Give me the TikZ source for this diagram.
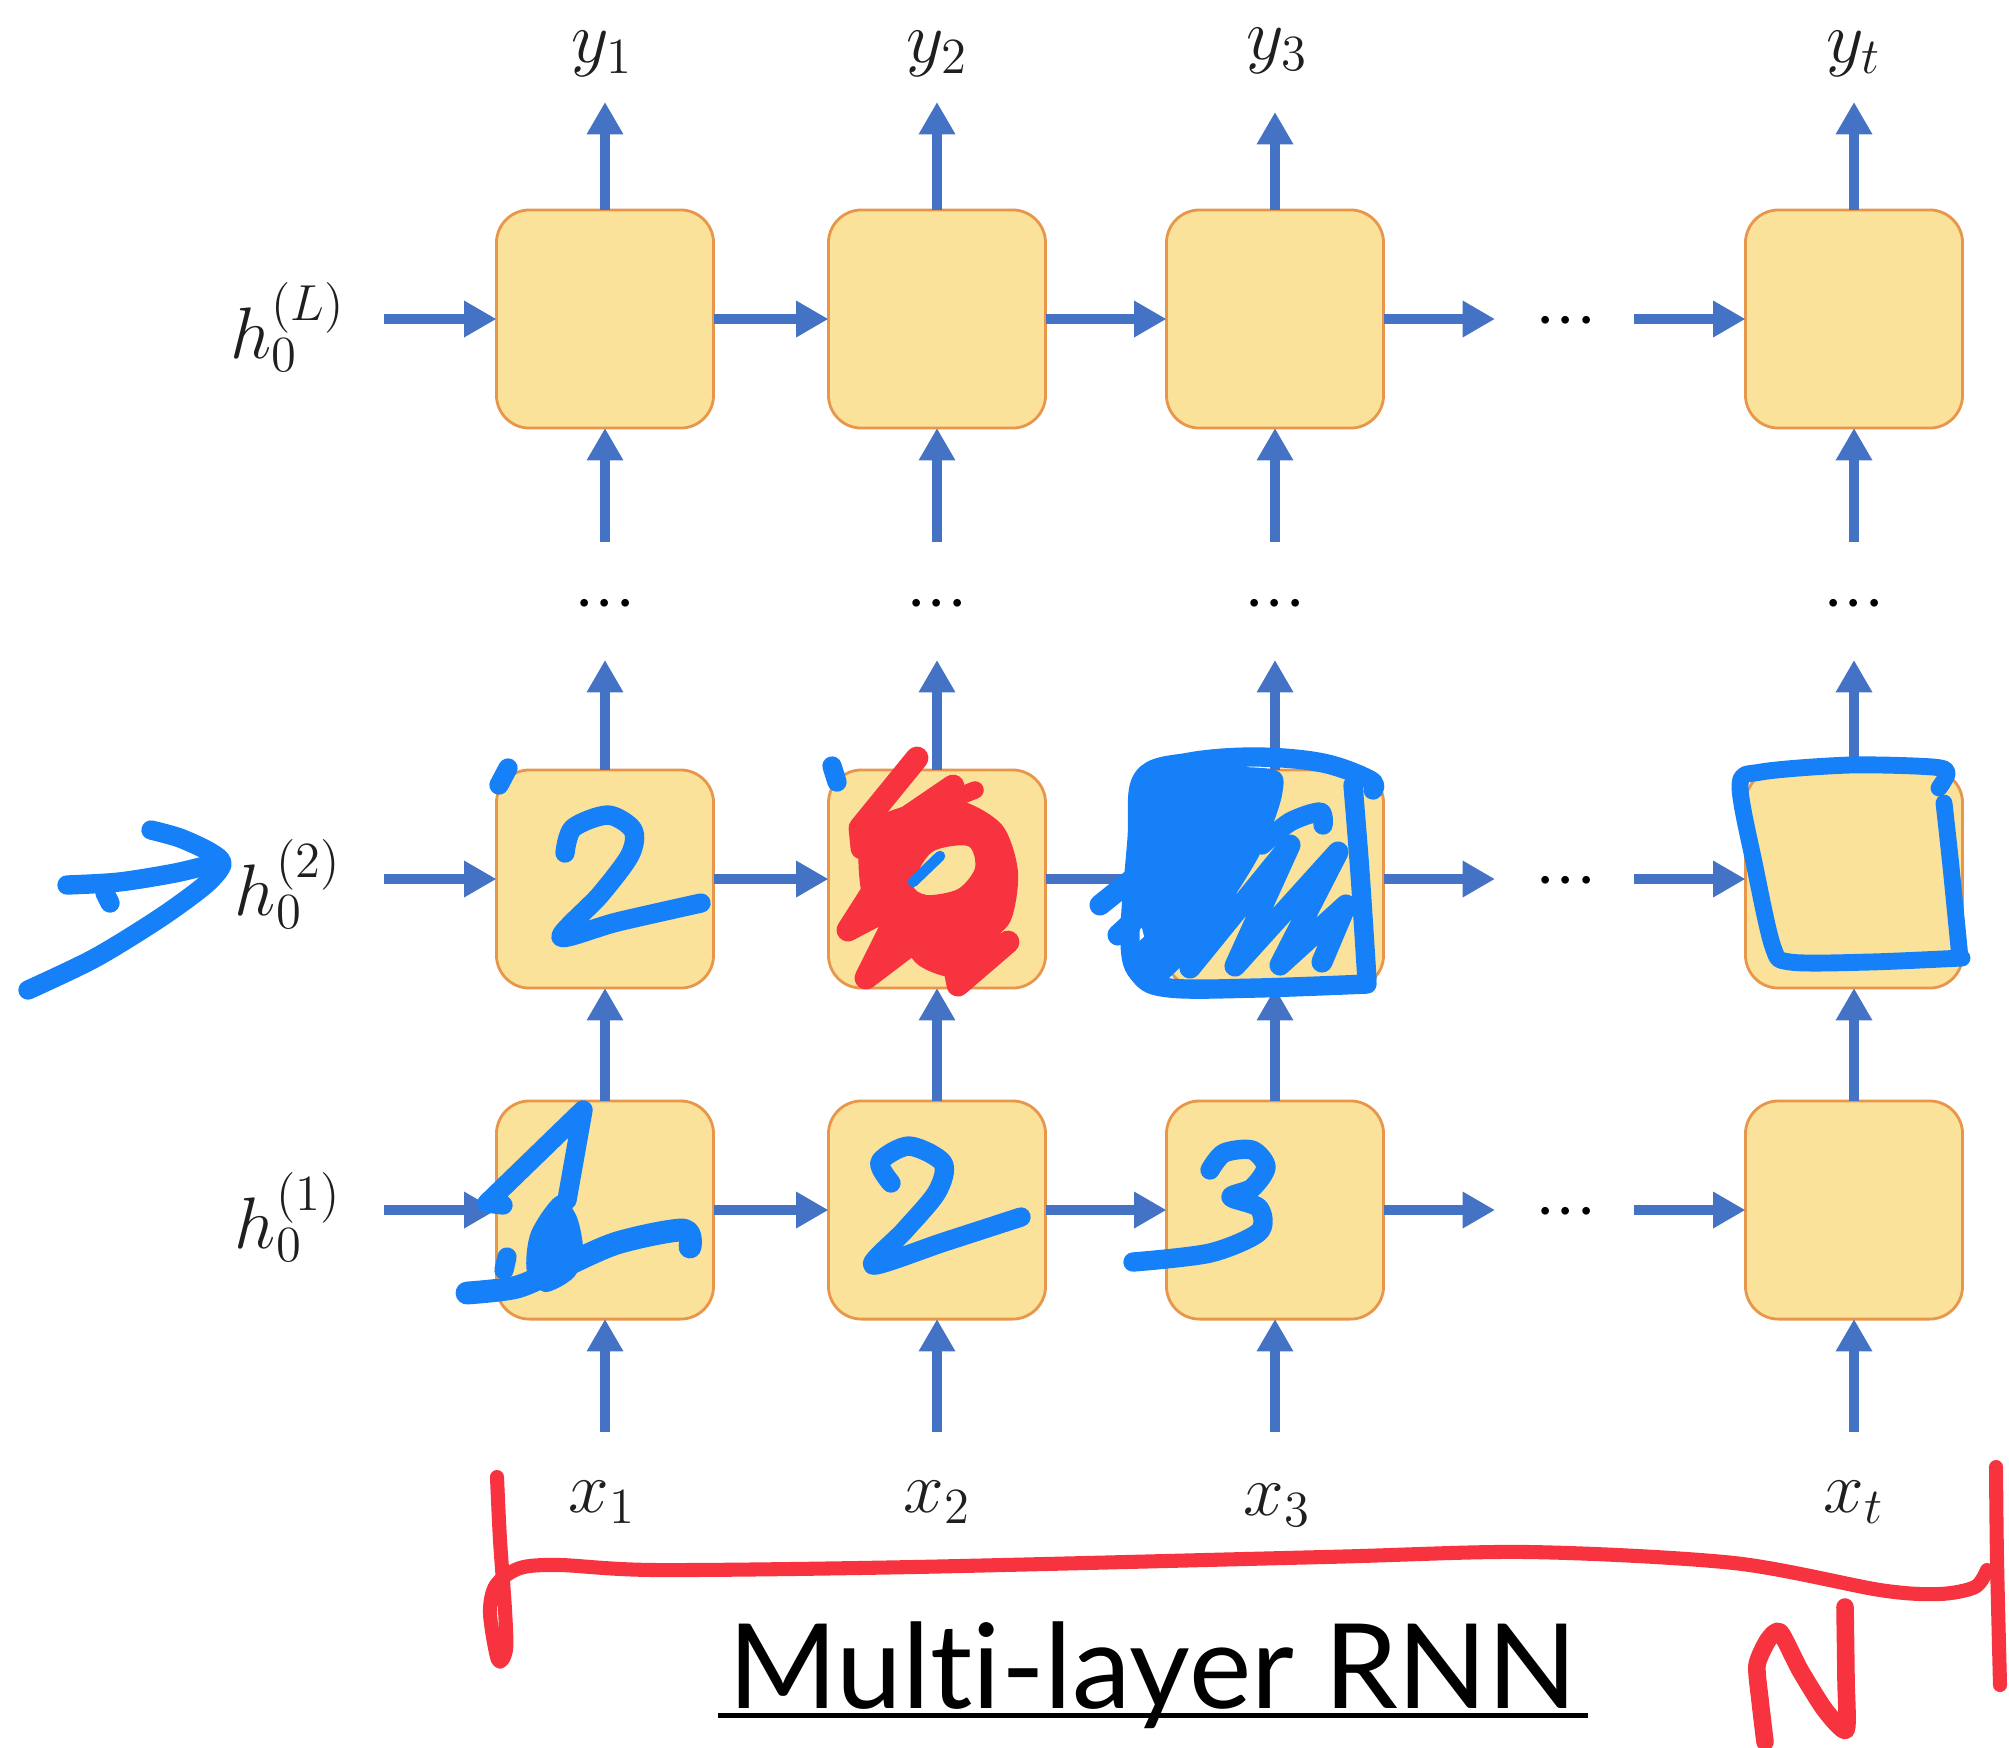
\documentclass[tikz,border=0pt]{standalone}
\usepackage{fontspec}
\usetikzlibrary{arrows.meta}
\newfontfamily\titlefont{Lato}[Ligatures=NoCommon]
\definecolor{arrowblue}{HTML}{4472C4}
\definecolor{cellfill}{HTML}{FBE29B}
\definecolor{celledge}{HTML}{E8964A}
\definecolor{penblue}{HTML}{1580F8}
\definecolor{penred}{HTML}{F6333F}
\begin{document}
\begin{tikzpicture}[x=0.01cm,y=-0.01cm,
  cell/.style={draw=celledge, line width=0.8pt, fill=cellfill, rounded corners=0.33cm,
    minimum width=2.17cm, minimum height=2.18cm, inner sep=0, outer sep=0},
  flow/.style={draw=arrowblue, line width=3.1pt, -{Triangle[length=9.2pt,width=9.8pt]}},
  lbl/.style={font=\fontsize{22}{26}\selectfont, text=black!88, inner sep=0},
  ellip/.style={font=\fontsize{21}{24}\selectfont, text=black, inner sep=0, anchor=base},
  bluepen/.style={draw=penblue, line width=5.5pt, line cap=round, line join=round},
  redpen/.style={draw=penred, line width=4pt, line cap=round, line join=round},
  redmarker/.style={draw=penred, line width=6.5pt, line cap=round, line join=round},
]
\useasboundingbox (0,0) rectangle (2009,1747);
\fill[white] (0,0) rectangle (2009,1747);

% ---- grid of RNN cells: bottom layer, layer 2, top layer L
\foreach \c/\x in {1/605,2/937,3/1275,4/1854}{
  \node[cell] (bot\c) at (\x,1210) {};
  \node[cell] (mid\c) at (\x,879) {};
  \node[cell] (top\c) at (\x,319) {};
}

% ---- initial hidden states
\node[lbl] (hL) at (288,327) {$h_0^{(L)}$};
\node[lbl] (h2) at (288,884) {$h_0^{(2)}$};
\node[lbl] (h1) at (288,1217) {$h_0^{(1)}$};

% ---- inputs and outputs
\node[lbl] (x1) at (602,1502) {$x_1$};
\node[lbl] (x2) at (937,1502) {$x_2$};
\node[lbl] (x3) at (1277,1505) {$x_3$};
\node[lbl] (xt) at (1854,1502) {$x_t$};
\node[lbl] (y1) at (602,54) {$y_1$};
\node[lbl] (y2) at (937,54) {$y_2$};
\node[lbl] (y3) at (1277,51) {$y_3$};
\node[lbl] (yt) at (1854,54) {$y_t$};

% ---- horizontal recurrences
\foreach \r/\y in {top/319,mid/879,bot/1210}{
  \coordinate (\r s) at (384,\y);
  \coordinate (\r a) at (1495,\y);
  \coordinate (\r b) at (1634,\y);
  \node[ellip] (\r dots) at (1566,\y+19) {${\cdot}{\cdot}{\cdot}$};
  \draw[flow] (\r s) -- (\r1.west);
  \draw[flow] (\r1.east) -- (\r2.west);
  \draw[flow] (\r2.east) -- (\r3.west);
  \draw[flow] (\r3.east) -- (\r a);
  \draw[flow] (\r b) -- (\r4.west);
}

% ---- vertical connections
\foreach \c/\x in {1/605,2/937,3/1275,4/1854}{
  \coordinate (in\c) at (\x,1432);
  \coordinate (up\c) at (\x,660);
  \coordinate (dn\c) at (\x,542);
  \node[ellip] (vd\c) at (\x,621) {${\cdot}{\cdot}{\cdot}$};
  \draw[flow] (in\c) -- (bot\c.south);
  \draw[flow] (bot\c.north) -- (mid\c.south);
  \draw[flow] (mid\c.north) -- (up\c);
  \draw[flow] (dn\c) -- (top\c.south);
}
\coordinate (out1) at (605,102);
\coordinate (out2) at (937,102);
\coordinate (out3) at (1275,112);
\coordinate (out4) at (1854,102);
\foreach \c in {1,2,3,4}{ \draw[flow] (top\c.north) -- (out\c); }

% ---- caption
\node[font=\titlefont\fontsize{33.5}{38}\selectfont, inner sep=0, anchor=base] (title) at (1153,1708) {Multi-layer RNN};
\draw[line width=1.45pt] ([xshift=-0.1cm,yshift=-0.075cm]title.base west) -- ([xshift=0.1cm,yshift=-0.075cm]title.base east);

% ---- pen annotations: arrow pointing at layer 2
\draw[bluepen] plot[smooth] coordinates {(151,830) (180,838) (210,852) (222,864) (205,885) (160,918) (95,958) (28,990)};
\draw[bluepen] plot[smooth] coordinates {(67,885) (119,882) (175,873) (212,864)};
\draw[bluepen] (105,893) -- (110,903);

% digit 2 in first layer-2 cell
\draw[bluepen] plot[smooth] coordinates {(565,853) (573,828) (608,815) (633,830) (630,855) (600,895) (561,937) (617,922) (701,903)};
\draw[bluepen] (508,768) -- (499,785);
\draw[bluepen] (832,766) -- (837,782);

% red scribble on second layer-2 cell
\fill[penred, even odd rule]
  plot[smooth cycle] coordinates {(862,830) (905,806) (958,800) (1002,825) (1018,872) (1010,922) (982,942) (930,948) (888,935) (862,895)}
  plot[smooth cycle] coordinates {(913,884) (932,852) (968,846) (975,868) (958,889) (927,895)};
\draw[redmarker] (917,758) -- (860,828) -- (862,848) -- (953,786);
\draw[redmarker] (885,872) -- (848,930) -- (905,900) -- (866,978) -- (945,918) -- (958,985) -- (1008,942);
\fill[penred] plot[smooth cycle] coordinates {(900,915) (960,905) (1000,918) (992,958) (958,978) (915,962)};
\draw[redmarker, line width=5pt] (950,800) -- (975,790);
\draw[draw=penblue, line width=3pt, line cap=round] (940,856) -- (913,882);

% hatched third layer-2 cell
\fill[penblue] plot[smooth cycle, tension=0.5] coordinates {(1145,782) (1200,768) (1275,770) (1282,795) (1262,850) (1228,905) (1190,945) (1155,960) (1138,900)};
\draw[bluepen] plot[smooth, tension=0.6] coordinates {(1373,790) (1370,780) (1323,763) (1257,757) (1190,762) (1143,778) (1137,840) (1130,940) (1140,975) (1170,988) (1257,988) (1367,984)};
\draw[bluepen] plot[smooth, tension=0.6] coordinates {(1353,785) (1360,873) (1367,980)};
\draw[bluepen, line width=6pt] (1100,905) -- (1175,845);
\draw[bluepen, line width=6pt] (1118,935) -- (1200,860);
\draw[bluepen, line width=6pt] (1140,955) -- (1215,885) -- (1160,972) -- (1230,905);
\draw[bluepen, line width=6pt] (1150,962) -- (1245,850) -- (1190,968) -- (1290,845) -- (1235,966) -- (1338,852)
  -- (1280,965) -- (1346,905) -- (1322,962);
\draw[bluepen, line width=5.5pt] plot[smooth] coordinates {(1262,845) (1290,822) (1320,812) (1323,825)};

% outline on last layer-2 cell
\draw[bluepen, line width=4.8pt] plot[smooth, tension=0.5] coordinates {(1939,788) (1947,773) (1933,767) (1850,765) (1761,772) (1740,785) (1755,867) (1773,947) (1790,962) (1870,962) (1962,958)};
\draw[bluepen, line width=4.8pt] plot[smooth, tension=0.5] coordinates {(1944,803) (1951,867) (1960,958)};

% digits on first layer
\draw[bluepen] (503,1205) -- (487,1203) -- (583,1110) -- (567,1200);
\fill[penblue] plot[smooth cycle] coordinates {(557,1196) (576,1215) (583,1250) (574,1277) (545,1292) (527,1272) (531,1232)};
\draw[bluepen, line width=6.5pt] plot[smooth] coordinates {(467,1293) (517,1287) (560,1268) (617,1243) (683,1230) (690,1247)};
\draw[bluepen] (507,1257) -- (504,1270);
\draw[bluepen] plot[smooth] coordinates {(891,1183) (880,1162) (909,1146) (943,1163) (937,1192) (905,1230) (873,1265) (944,1242) (1021,1217)};
\draw[bluepen] plot[smooth] coordinates {(1210,1170) (1224,1153) (1252,1150) (1266,1167) (1252,1188) (1231,1197) (1259,1208) (1259,1232) (1210,1253) (1133,1262)};

% red brace and letter N
\draw[redpen] plot[smooth] coordinates {(497,1477) (500,1540) (505,1610) (506,1650) (498,1660) (490,1613) (496,1585) (520,1568) (560,1565) (657,1570) (913,1567) (1324,1557) (1529,1552) (1734,1563) (1880,1590) (1939,1594) (1975,1587) (1987,1570)};
\draw[redpen] plot[smooth] coordinates {(1996,1467) (1997,1560) (2000,1685)};
\draw[redpen, line width=5pt] plot[smooth, tension=0.4] coordinates {(1765,1742) (1760,1700) (1757,1665) (1768,1640) (1780,1632) (1800,1670) (1825,1710) (1846,1730) (1846,1680) (1845,1607)};
\end{tikzpicture}
\end{document}
